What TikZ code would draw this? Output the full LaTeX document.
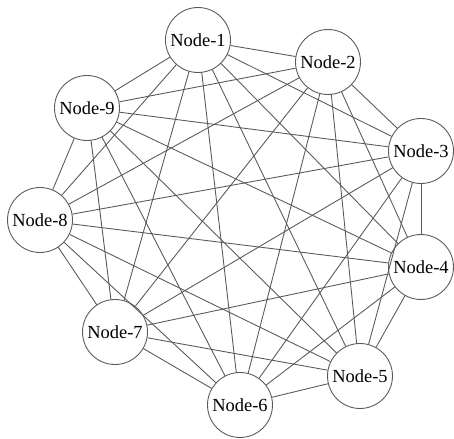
\documentclass[tikz,border=0pt]{standalone}
\usepackage{fontspec}
\setmainfont{Liberation Serif}
\begin{document}
\begin{tikzpicture}[x=0.02cm,y=-0.02cm]
    \def\r{1.3cm}
    \tikzset{vertex/.style={circle, draw=black!65, fill=white, line width=0.5pt, minimum size=\r, inner sep=0pt, font=\fontsize{10.5}{12}\selectfont}}
    \useasboundingbox (0,0) rectangle (454,439);
    \foreach \n/\x/\y in {1/198/40, 2/328/62, 3/421/151, 4/421/267, 5/360/376, 6/240/405, 7/115/332, 8/40/220, 9/87/108}{
        \node[vertex] (node\n) at (\x,\y) {Node-\n};
    }
    \foreach \i in {1,...,8}
        \foreach \j in {2,...,9}{
            \ifnum \j > \i
                \draw [black!65, line width=0.5pt] (node\i) -- (node\j);
            \fi
        }
\end{tikzpicture}
\end{document}
